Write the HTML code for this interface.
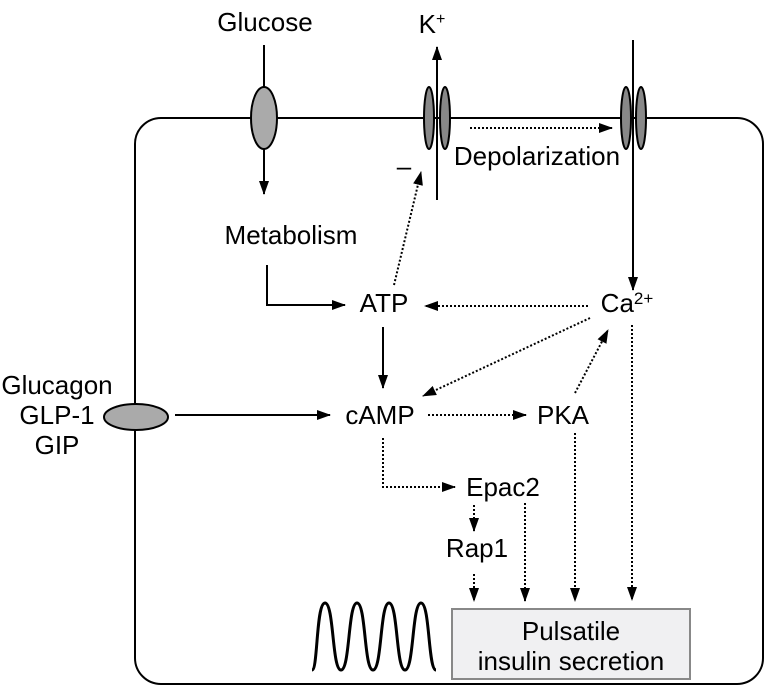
<!DOCTYPE html>
<html><head><style>body{margin:0;background:#fff}svg{display:block}text{font-family:"Liberation Sans",sans-serif;font-size:26px;fill:#000}</style></head><body>
<svg width="769" height="688" viewBox="0 0 769 688">
<defs>
<marker id="b" markerWidth="14" markerHeight="10" refX="13" refY="5" orient="auto" markerUnits="userSpaceOnUse"><path d="M0,0L14,5L0,10z" fill="#000"/></marker>
</defs>
<rect x="135" y="118" width="628" height="566" rx="26" fill="none" stroke="#000" stroke-width="2"/>
<g stroke="#000" stroke-width="2" fill="none">
<line x1="264" y1="45" x2="264" y2="194" marker-end="url(#b)"/>
<line x1="437" y1="200" x2="437" y2="47" marker-end="url(#b)"/>
<line x1="633" y1="40" x2="633" y2="290" marker-end="url(#b)"/>
<polyline points="267,265 267,305 345,305" marker-end="url(#b)"/>
<line x1="383" y1="327" x2="383" y2="388" marker-end="url(#b)"/>
<line x1="175" y1="415" x2="330" y2="415" marker-end="url(#b)"/>
</g>
<ellipse cx="264" cy="118" rx="13" ry="31" fill="#aaa" stroke="#000" stroke-width="2"/>
<ellipse cx="429" cy="118" rx="5" ry="31" fill="#888" stroke="#000" stroke-width="2"/>
<ellipse cx="445" cy="118" rx="5" ry="31" fill="#888" stroke="#000" stroke-width="2"/>
<ellipse cx="626" cy="118" rx="5" ry="31" fill="#888" stroke="#000" stroke-width="2"/>
<ellipse cx="641" cy="118" rx="5" ry="31" fill="#888" stroke="#000" stroke-width="2"/>
<ellipse cx="136" cy="417" rx="32" ry="13" fill="#aaa" stroke="#000" stroke-width="2"/>
<g stroke="#000" stroke-width="2" fill="none" stroke-dasharray="2,2">
<line x1="470" y1="128" x2="612" y2="128" marker-end="url(#b)"/>
<line x1="394" y1="285" x2="421" y2="172" marker-end="url(#b)"/>
<line x1="588" y1="306" x2="425" y2="306" marker-end="url(#b)"/>
<line x1="590" y1="318" x2="423" y2="396" marker-end="url(#b)"/>
<line x1="575" y1="393" x2="608" y2="330" marker-end="url(#b)"/>
<line x1="632" y1="325" x2="632" y2="600" marker-end="url(#b)"/>
<line x1="428" y1="415" x2="526" y2="415" marker-end="url(#b)"/>
<polyline points="383,438 383,487 455,487" marker-end="url(#b)"/>
<line x1="474" y1="505" x2="474" y2="531" marker-end="url(#b)"/>
<line x1="474" y1="574" x2="474" y2="601" marker-end="url(#b)"/>
<line x1="525" y1="503" x2="525" y2="601" marker-end="url(#b)"/>
<line x1="575" y1="433" x2="575" y2="601" marker-end="url(#b)"/>
</g>
<rect x="452" y="609" width="238" height="70" fill="#f0f0f2" stroke="#888" stroke-width="2"/>
<path d="M312,670 C318,670 316,603 325,603 C334,603 332,670 341,670 C350,670 348,603 357,603 C366,603 364,670 373,670 C382,670 380,603 389,603 C398,603 396,670 405,670 C414,670 412,603 421,603 C430,603 428,670 436,670" fill="none" stroke="#000" stroke-width="3"/>
<g text-anchor="middle">
<text x="265" y="31">Glucose</text>
<text x="432" y="33">K<tspan font-size="16" dy="-9">+</tspan></text>
<text x="537" y="165">Depolarization</text>
<text x="404" y="175">–</text>
<text x="291" y="244">Metabolism</text>
<text x="384" y="312">ATP</text>
<text x="627" y="312">Ca<tspan font-size="17" dy="-8">2+</tspan></text>
<text x="380" y="424">cAMP</text>
<text x="563" y="424">PKA</text>
<text x="503" y="496">Epac2</text>
<text x="477" y="557">Rap1</text>
<text x="57" y="394">Glucagon</text>
<text x="57" y="424">GLP-1</text>
<text x="57" y="454">GIP</text>
<text x="571" y="640">Pulsatile</text>
<text x="571" y="670">insulin secretion</text>
</g>
</svg>
</body></html>
